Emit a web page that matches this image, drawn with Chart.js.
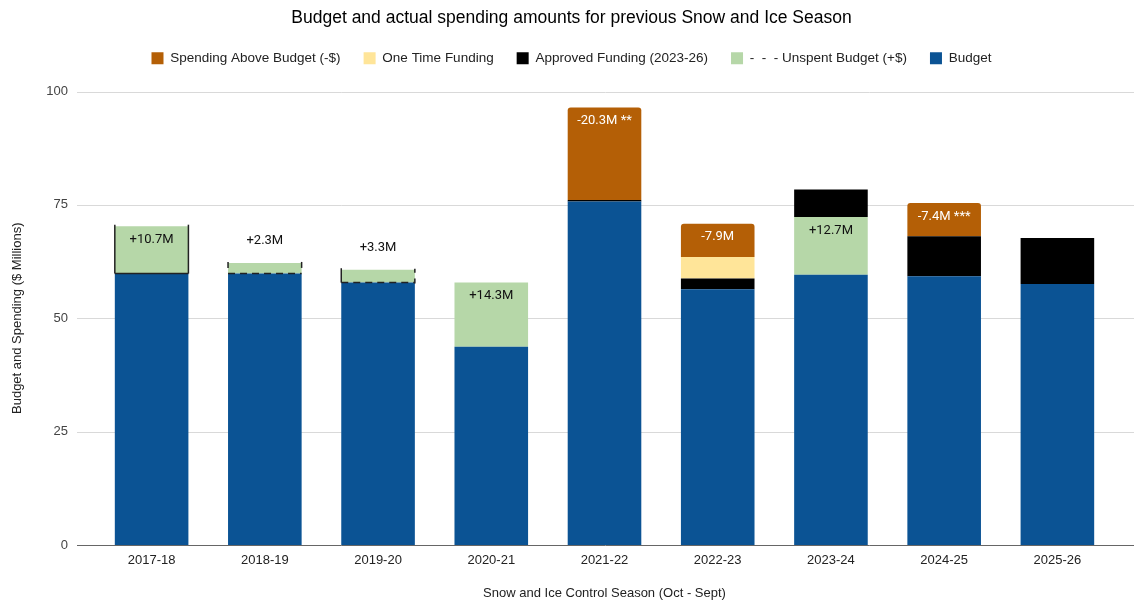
<!DOCTYPE html>
<html>
<head>
<meta charset="utf-8">
<script src="https://cdn.jsdelivr.net/npm/chart.js@4.4.1/dist/chart.umd.min.js"></script>
<style>
  html, body { margin: 0; padding: 0; background: #fff; }
  #wrap { width: 1134px; height: 601px; position: relative; }
</style>
</head>
<body>
<div id="wrap"><canvas id="snowChart"></canvas></div>
<script>
const seasons = ["2017-18", "2018-19", "2019-20", "2020-21", "2021-22", "2022-23", "2023-24", "2024-25", "2025-26"];
const budget = [59.85, 59.85, 57.86, 43.7, 75.77, 56.39, 59.6, 59.25, 57.55];
const unspent = [10.45, 2.35, 2.84, 14.16, 0, 0, 12.7, 0, 0];
const approved = [0, 0, 0, 0, 0.3, 2.35, 6.1, 8.85, 10.15];
const oneTime = [0, 0, 0, 0, 0, 4.76, 0, 0, 0];
const overBudget = [0, 0, 0, 0, 20.38, 7.36, 0, 7.3, 0];
const unspentLabels = ["+10.7M", "+2.3M", "+3.3M", "+14.3M", "", "", "+12.7M", "", ""];
const overLabels = ["", "", "", "", "-20.3M **", "-7.9M", "", "-7.4M ***", ""];
const yMax = 100;
const yStep = 25;

const AXIS_FONT = "'Liberation Sans', Arial, sans-serif";
const LABEL_FONT = "Roboto, 'Liberation Sans', sans-serif";

// horizontal grid lines, running a bit past the plot on both sides like the original
const gridLines = {
  id: "gridLines",
  beforeDatasetsDraw(chart) {
    const { ctx, chartArea, scales } = chart;
    ctx.save();
    ctx.lineWidth = 1;
    ctx.strokeStyle = "#d9d9d9";
    scales.y.ticks.forEach(t => {
      if (t.value === 0) return;
      const y = Math.round(scales.y.getPixelForValue(t.value)) + 0.5;
      ctx.beginPath();
      ctx.moveTo(chartArea.left - 18, y);
      ctx.lineTo(chart.width, y);
      ctx.stroke();
    });
    ctx.restore();
  },
  afterDatasetsDraw(chart) {
    const { ctx, chartArea, scales } = chart;
    const y = Math.round(scales.y.getPixelForValue(0)) + 0.5;
    ctx.save();
    ctx.strokeStyle = "#666";
    ctx.lineWidth = 1;
    ctx.beginPath();
    ctx.moveTo(chartArea.left - 18, y);
    ctx.lineTo(chart.width, y);
    ctx.stroke();
    ctx.restore();
  }
};

// leave a gap under the legend like the original
const legendGap = {
  id: "legendGap",
  beforeUpdate(chart) {
    const lg = chart.legend;
    if (!lg || lg._gapPatched) return;
    const fit = lg.fit;
    lg.fit = function () {
      fit.call(this);
      this.height += 16.5;
    };
    lg._gapPatched = true;
  }
};

// black brackets / dashed budget line drawn on the small unspent bars
const unspentMarks = {
  id: "unspentMarks",
  afterDatasetsDraw(chart) {
    const styles = {
      "2017-18": { dash: [], left: "full", right: "full" },
      "2018-19": { dash: [7, 5], left: "top", right: "top" },
      "2019-20": { dash: [7, 5], left: "full", right: "split" }
    };
    const { ctx } = chart;
    const meta = chart.getDatasetMeta(1);
    ctx.save();
    ctx.strokeStyle = "#222";
    ctx.lineWidth = 1.5;
    meta.data.forEach((bar, i) => {
      const st = styles[seasons[i]];
      if (!st) return;
      const { x, y, base, width } = bar.getProps(["x", "y", "base", "width"], true);
      const l = x - width / 2, r = x + width / 2;
      ctx.setLineDash(st.dash);
      ctx.beginPath();
      ctx.moveTo(l, base);
      ctx.lineTo(r, base);
      ctx.stroke();
      ctx.setLineDash([]);
      [[l, st.left], [r, st.right]].forEach(([sx, kind]) => {
        ctx.beginPath();
        if (kind === "full") {
          ctx.moveTo(sx, y - 1.5);
          ctx.lineTo(sx, base);
        } else if (kind === "top") {
          ctx.moveTo(sx, y - 1);
          ctx.lineTo(sx, y + 5);
        } else {
          ctx.moveTo(sx, y - 1);
          ctx.lineTo(sx, y + 3);
          ctx.moveTo(sx, base - 4);
          ctx.lineTo(sx, base + 1);
        }
        ctx.stroke();
      });
    });
    ctx.restore();
  }
};

const segmentLabels = {
  id: "segmentLabels",
  afterDatasetsDraw(chart) {
    const { ctx } = chart;
    ctx.save();
    ctx.font = "13px " + LABEL_FONT;
    ctx.textAlign = "center";
    ctx.textBaseline = "middle";
    [[1, unspentLabels, "#111"], [4, overLabels, "#fff"]].forEach(([idx, texts, color]) => {
      chart.getDatasetMeta(idx).data.forEach((bar, i) => {
        if (!texts[i]) return;
        const { x, y, base } = bar.getProps(["x", "y", "base"], true);
        if (base - y < 24) {
          ctx.fillStyle = "#111";
          ctx.fillText(texts[i], x, y - 22);
        } else {
          ctx.fillStyle = color;
          ctx.fillText(texts[i], x, y + 13.5);
        }
      });
    });
    ctx.restore();
  }
};

Chart.defaults.font.family = AXIS_FONT;
Chart.defaults.font.size = 13;
Chart.defaults.color = "#444";

new Chart(document.getElementById("snowChart"), {
  type: "bar",
  data: {
    labels: seasons,
    datasets: [
      { label: "Budget", data: budget, backgroundColor: "#0b5394" },
      { label: "-  -  - Unspent Budget (+$)", data: unspent, backgroundColor: "#b6d7a8" },
      { label: "Approved Funding (2023-26)", data: approved, backgroundColor: "#000000" },
      { label: "One Time Funding", data: oneTime, backgroundColor: "#ffe599" },
      {
        label: "Spending Above Budget (-$)",
        data: overBudget,
        backgroundColor: "#b45f06",
        borderRadius: { topLeft: 3, topRight: 3, bottomLeft: 0, bottomRight: 0 },
        borderSkipped: "bottom"
      }
    ]
  },
  options: {
    responsive: true,
    maintainAspectRatio: false,
    animation: false,
    datasets: {
      bar: { categoryPercentage: 0.65, barPercentage: 1 }
    },
    layout: {
      padding: { left: 29, right: 20, top: 0, bottom: 0 }
    },
    plugins: {
      title: {
        display: true,
        text: "Budget and actual spending amounts for previous Snow and Ice Season",
        color: "#000",
        font: { size: 17.5, weight: "normal", family: AXIS_FONT },
        padding: { top: 7.5, bottom: 0 }
      },
      legend: {
        display: true,
        position: "top",
        reverse: true,
        labels: {
          boxWidth: 12,
          boxHeight: 12,
          padding: 23,
          color: "#222",
          font: { size: 13.5, family: AXIS_FONT }
        }
      },
      tooltip: { enabled: false }
    },
    scales: {
      x: {
        stacked: true,
        grid: { display: false, drawTicks: false },
        border: { display: false },
        ticks: { padding: 8, color: "#222" },
        title: {
          display: true,
          text: "Snow and Ice Control Season (Oct - Sept)",
          color: "#222",
          padding: { top: 0, bottom: 0 }
        },
        afterFit(scale) { scale.height = 56; }
      },
      y: {
        stacked: true,
        min: 0,
        max: yMax,
        ticks: { stepSize: yStep, padding: 27, color: "#444" },
        grid: { display: false, drawTicks: false },
        border: { display: false },
        title: {
          display: true,
          text: "Budget and Spending ($ Millions)",
          color: "#222",
          padding: { top: -19, bottom: 0 }
        },
        afterFit(scale) { scale.width = 66; }
      }
    }
  },
  plugins: [legendGap, gridLines, unspentMarks, segmentLabels]
});
</script>
</body>
</html>
